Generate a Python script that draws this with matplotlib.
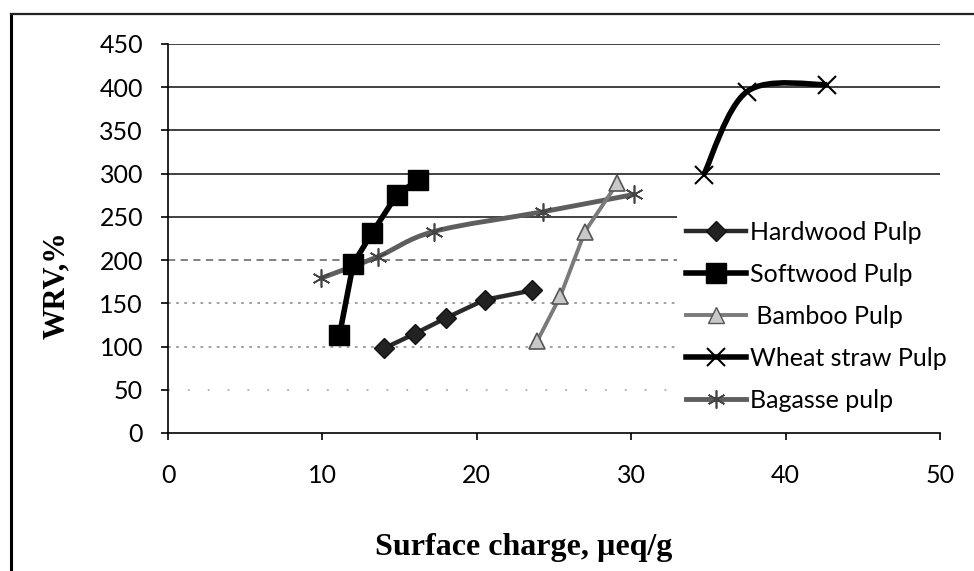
import numpy as np
import matplotlib
matplotlib.use("Agg")
import matplotlib.pyplot as plt
from matplotlib.path import Path
from matplotlib.patches import PathPatch
from matplotlib.lines import Line2D

# WRV (%) against surface charge (ueq/g) for each pulp
hardwood_x = [14.0, 16.0, 18.0, 20.5, 23.6]
hardwood_y = [98, 115, 133, 154, 165]

softwood_x = [11.1, 12.0, 13.2, 14.8, 16.2]
softwood_y = [113, 196, 231, 275, 293]

bamboo_x = [23.9, 25.4, 27.0, 29.1]
bamboo_y = [106, 158, 233, 289]

wheat_x = [34.7, 37.5, 42.7]
wheat_y = [299, 395, 403]

bagasse_x = [9.9, 13.6, 17.2, 24.3, 30.2]
bagasse_y = [179, 204, 233, 256, 276]

x_ticks = [0, 10, 20, 30, 40, 50]
y_ticks = [0, 50, 100, 150, 200, 250, 300, 350, 400, 450]


def smooth_path(xs, ys):
    # Catmull-Rom style bezier through the points (spreadsheet "smoothed line")
    pts = np.column_stack([xs, ys]).astype(float)
    n = len(pts)
    verts = [pts[0]]
    codes = [Path.MOVETO]
    for i in range(n - 1):
        p0 = pts[i - 1] if i > 0 else pts[i]
        p1 = pts[i]
        p2 = pts[i + 1]
        p3 = pts[i + 2] if i + 2 < n else pts[i + 1]
        verts += [p1 + (p2 - p0) / 6, p2 - (p3 - p1) / 6, p2]
        codes += [Path.CURVE4] * 3
    return Path(verts, codes)


plt.rcParams['font.family'] = ['Lato', 'DejaVu Sans']

fig = plt.figure(figsize=(9.74, 5.71), dpi=100)
ax = fig.add_axes([0.1725, 0.2417, 0.7927, 0.6813])

# straight-line series
ax.plot(hardwood_x, hardwood_y, color='#2a2a2a', lw=3.2, marker='D', ms=10,
        mfc='#222222', mec='#111111', zorder=4)
ax.plot(softwood_x, softwood_y, color='black', lw=4, marker='s', ms=14,
        mfc='black', mec='black', zorder=5)
ax.plot(bamboo_x, bamboo_y, color='#7a7a7a', lw=2.8, marker='^', ms=11,
        mfc='#c8c8c8', mec='#555555', mew=1.2, zorder=4)

# smoothed series
ax.add_patch(PathPatch(smooth_path(wheat_x, wheat_y), fill=False,
                       edgecolor='black', lw=4, zorder=4))
ax.plot(wheat_x, wheat_y, ls='none', marker='x', ms=13, mew=1.5,
        color='black', zorder=5)
ax.add_patch(PathPatch(smooth_path(bagasse_x, bagasse_y), fill=False,
                       edgecolor='#5e5e5e', lw=3.5, zorder=3))
ax.plot(bagasse_x, bagasse_y, ls='none', marker=(6, 2, 0), ms=13, mew=1.2,
        color='#444444', zorder=5)

ax.set_xlim(0, 50)
ax.set_ylim(0, 450)
ax.set_xticks(x_ticks)
ax.set_yticks(y_ticks)

# gridlines fade out towards the bottom
ax.grid(axis='y', color='#333333', lw=1.3, zorder=1)
for val, gl in zip(y_ticks, ax.get_ygridlines()):
    if val == 0:
        gl.set_visible(False)
    elif val == 200:
        gl.set_color('#777777')
        gl.set_dashes((4, 3))
    elif val in (150, 100):
        gl.set_color('#999999')
        gl.set_dashes((1.5, 3))
    elif val == 50:
        gl.set_color('#aaaaaa')
        gl.set_dashes((1, 10))
ax.set_axisbelow(True)

for side in ('top', 'right'):
    ax.spines[side].set_visible(False)
ax.spines['left'].set_linewidth(1.2)
ax.spines['bottom'].set_linewidth(1.2)
ax.tick_params(axis='both', labelsize=18, length=5, width=1.2, colors='black')
ax.tick_params(axis='x', pad=17)
ax.tick_params(axis='y', pad=13)

handles = [
    Line2D([], [], color='#2a2a2a', lw=3.2, marker='D', ms=10, mfc='#222222', mec='#111111'),
    Line2D([], [], color='black', lw=4, marker='s', ms=14, mfc='black', mec='black'),
    Line2D([], [], color='#7a7a7a', lw=2.8, marker='^', ms=11, mfc='#c8c8c8', mec='#555555'),
    Line2D([], [], color='black', lw=4, marker='x', ms=13, mew=1.5),
    Line2D([], [], color='#5e5e5e', lw=3.5, marker=(6, 2, 0), ms=13, mec='#444444', mew=1.2),
]
labels = ['Hardwood Pulp', 'Softwood Pulp', ' Bamboo Pulp', 'Wheat straw Pulp', 'Bagasse pulp']
leg = ax.legend(handles, labels, loc='upper left',
                bbox_to_anchor=(677 / 974, 1 - 212 / 571),
                bbox_transform=fig.transFigure, fontsize=18, frameon=True,
                framealpha=1, facecolor='white', edgecolor='none',
                handlelength=2.4, handletextpad=0.15, labelspacing=0.76,
                borderpad=0.35, borderaxespad=0)
leg.set_zorder(6)

fig.text(524 / 974, 1 - 548 / 571, 'Surface charge, \u00b5eq/g', ha='center', va='center',
         family='Liberation Serif', weight='bold', fontsize=23)
fig.text(57 / 974, 1 - 285 / 571, 'WRV,%', ha='center', va='center', rotation=90,
         family='Liberation Serif', weight='bold', fontsize=22)

# outer frame of the chart area
fig.add_artist(Line2D([11 / 974, 11 / 974], [0, 1 - 14 / 571], color='black', lw=2.2,
                      transform=fig.transFigure))
fig.add_artist(Line2D([11 / 974, 1], [1 - 14 / 571, 1 - 14 / 571], color='#222222', lw=1.6,
                      transform=fig.transFigure))

fig.savefig('out.png', dpi=100)
